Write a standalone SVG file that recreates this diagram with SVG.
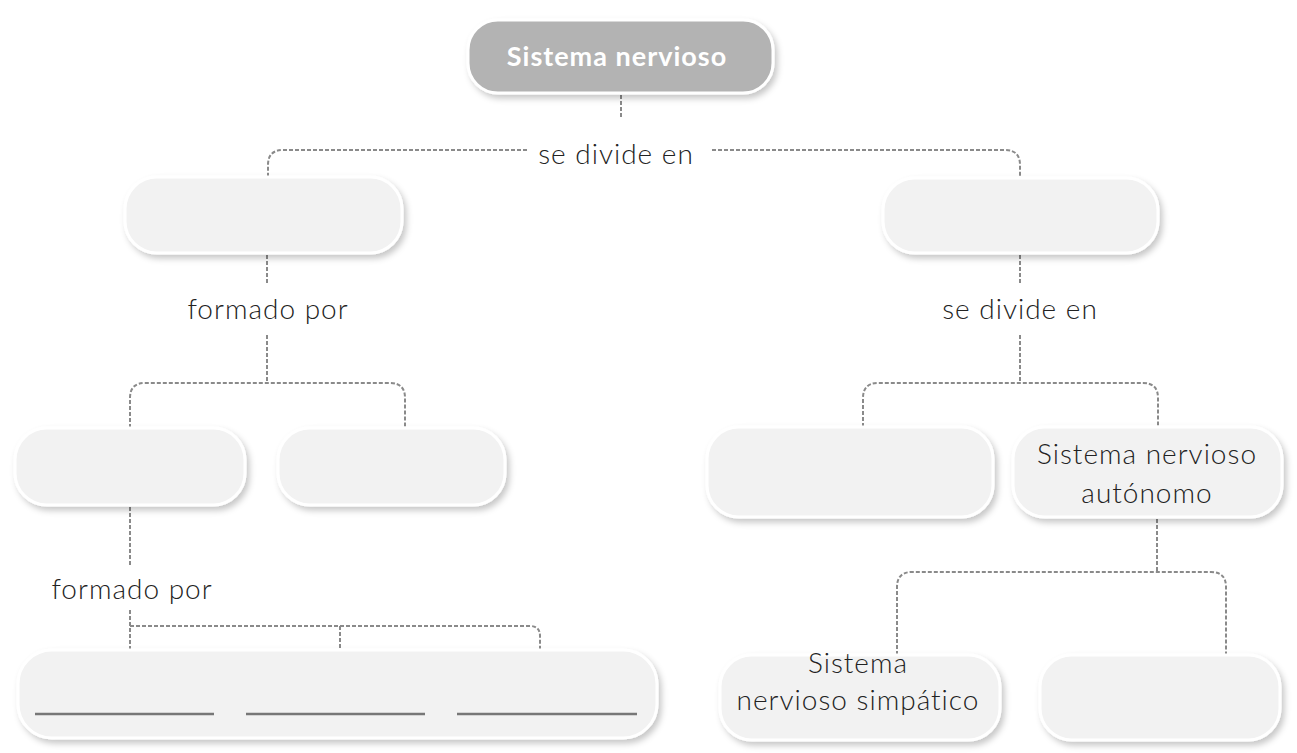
<svg xmlns="http://www.w3.org/2000/svg" width="1297" height="753" viewBox="0 0 1297 753">
<defs>
<filter id="sh" x="-10%" y="-20%" width="125%" height="150%">
<feDropShadow dx="3" dy="4" stdDeviation="3" flood-color="#000" flood-opacity="0.22"/>
</filter>
<style>
.box{fill:#f2f2f2;stroke:#ffffff;stroke-width:3;filter:url(#sh)}
.top{fill:#b3b3b3;stroke:#ffffff;stroke-width:3;filter:url(#sh)}
.con{fill:none;stroke:#8a8a8a;stroke-width:2;stroke-dasharray:4 2}
.lbl{font-family:"Lato","Liberation Sans",sans-serif;font-size:28px;font-weight:300;letter-spacing:1px;fill:#222;text-anchor:middle;font-variant-ligatures:none}
.tt{font-family:"Lato","Liberation Sans",sans-serif;font-size:27px;font-weight:bold;letter-spacing:1px;fill:#ffffff;text-anchor:middle}
.ul{stroke:#777;stroke-width:2.5}
</style>
</defs>
<rect width="1297" height="753" fill="#ffffff"/>
<g id="connectors">
<path class="con" d="M621 95 V118"/>
<path class="con" d="M527 150 H283 Q268 150 268 165 V177"/>
<path class="con" d="M712 150 H1005 Q1020 150 1020 165 V178"/>
<path class="con" d="M267 255 V285"/>
<path class="con" d="M267 335 V383"/>
<path class="con" d="M130 428 V398 Q130 383 145 383 H390 Q405 383 405 398 V428"/>
<path class="con" d="M1020 255 V285"/>
<path class="con" d="M1020 335 V383"/>
<path class="con" d="M863 427 V398 Q863 383 878 383 H1143 Q1158 383 1158 398 V427"/>
<path class="con" d="M130 507 V565"/>
<path class="con" d="M130 610 V650"/>
<path class="con" d="M130 626 H530 Q540 626 540 636 V650"/>
<path class="con" d="M340 626 V650"/>
<path class="con" d="M1157 519 V572"/>
<path class="con" d="M897 655 V587 Q897 572 912 572 H1211 Q1226 572 1226 587 V655"/>
</g>
<g id="n-sistema-nervioso">
<rect class="top" x="468" y="20" width="305" height="73" rx="30"/>
<text class="tt" x="617" y="66">Sistema nervioso</text>
</g>
<g id="l-se-divide-1"><text class="lbl" x="616" y="164">se divide en</text></g>
<g id="n-left1"><rect class="box" x="125" y="177" width="277" height="76" rx="32"/></g>
<g id="n-right1"><rect class="box" x="883" y="178" width="275" height="75" rx="32"/></g>
<g id="l-formado-1"><text class="lbl" x="268" y="319">formado por</text></g>
<g id="l-se-divide-2"><text class="lbl" x="1020" y="319">se divide en</text></g>
<g id="n-left2a"><rect class="box" x="15" y="428" width="230" height="77" rx="32"/></g>
<g id="n-left2b"><rect class="box" x="278" y="428" width="227" height="77" rx="32"/></g>
<g id="n-right2a"><rect class="box" x="707" y="427" width="286" height="90" rx="32"/></g>
<g id="n-right2b">
<rect class="box" x="1013" y="427" width="269" height="90" rx="32"/>
<text class="lbl" x="1147" y="464">Sistema nervioso</text>
<text class="lbl" x="1147" y="503">autónomo</text>
</g>
<g id="l-formado-2"><text class="lbl" x="132" y="599">formado por</text></g>
<g id="n-bottom">
<rect class="box" x="18" y="650" width="639" height="88" rx="34"/>
<line class="ul" x1="35" y1="714" x2="214" y2="714"/>
<line class="ul" x1="246" y1="714" x2="425" y2="714"/>
<line class="ul" x1="457" y1="714" x2="637" y2="714"/>
</g>
<g id="n-simpatico">
<rect class="box" x="720" y="655" width="280" height="85" rx="32"/>
<text class="lbl" x="858" y="673">Sistema</text>
<text class="lbl" x="858" y="710">nervioso simpático</text>
</g>
<g id="n-right3b"><rect class="box" x="1040" y="655" width="240" height="85" rx="32"/></g>
</svg>
